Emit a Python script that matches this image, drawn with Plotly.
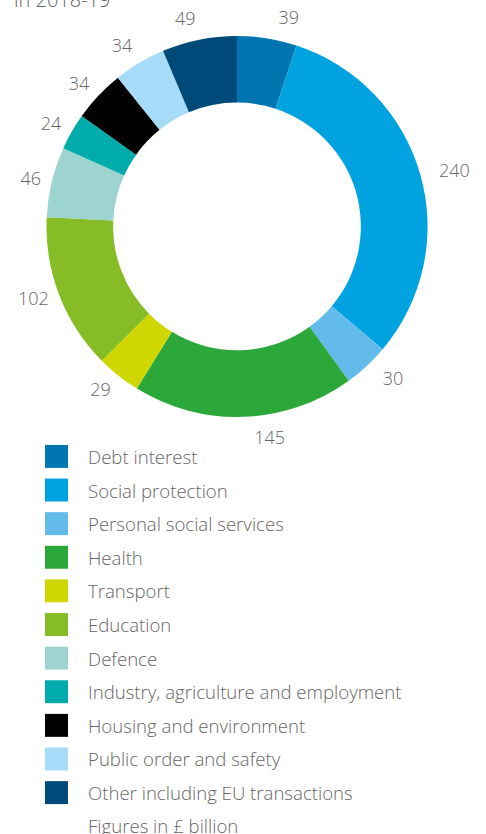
import plotly.graph_objects as go

categories = ["Debt interest", "Social protection", "Personal social services", "Health",
              "Transport", "Education", "Defence", "Industry, agriculture and employment",
              "Housing and environment", "Public order and safety", "Other including EU transactions"]
values = [39, 240, 30, 145, 29, 102, 46, 24, 34, 34, 49]
colors = ["#0075B0", "#00A3E0", "#62BBEA", "#2CA83B", "#D0D600", "#86BC25",
          "#9DD4CF", "#00ABAB", "#000000", "#A6DCF8", "#004A7A"]

W, H = 486, 834
FONT = "Open Sans"
GREY = "#666666"
CX, CY, R = 237, 225, 191     # donut centre / radius in px
RL = 200                      # radius used to place outside value labels


def dom(r, cx=CX, cy=CY):
    return dict(x=[(cx - r) / W, (cx + r) / W], y=[1 - (cy + r) / H, 1 - (cy - r) / H])


fig = go.Figure()
# visible donut
fig.add_trace(go.Pie(
    labels=categories, values=values, sort=False, direction="clockwise", rotation=0,
    hole=0.65, marker=dict(colors=colors, line=dict(width=0)),
    textinfo="none", showlegend=False, hoverinfo="label+value", domain=dom(R),
))
# transparent ring carrying the value labels slightly further out
fig.add_trace(go.Pie(
    labels=categories, values=values, sort=False, direction="clockwise", rotation=0,
    hole=0.95, marker=dict(colors=["rgba(0,0,0,0)"] * len(values), line=dict(width=0)),
    textinfo="value", textposition="outside",
    textfont=dict(family=FONT, size=18, color=GREY, weight=300),
    showlegend=False, hoverinfo="skip", domain=dom(RL, cx=CX + 4, cy=CY - 1),
))

shapes, annotations = [], []
y0, step = 455.5, 33.7
for i, (cat, col) in enumerate(zip(categories, colors)):
    yc = y0 + i * step
    shapes.append(dict(type="rect", xref="paper", yref="paper",
                       x0=45 / W, x1=68 / W, y0=1 - (yc + 11.5) / H, y1=1 - (yc - 11.5) / H,
                       fillcolor=col, line=dict(width=0)))
    annotations.append(dict(text=cat, xref="paper", yref="paper", x=86 / W, y=1 - yc / H,
                            xanchor="left", yanchor="middle", showarrow=False,
                            font=dict(family=FONT, size=18.6, color=GREY, weight=300)))

annotations.append(dict(text="Figures in £ billion", xref="paper", yref="paper",
                        x=86 / W, y=1 - 825 / H, xanchor="left", yanchor="middle",
                        showarrow=False, font=dict(family=FONT, size=18.6, color=GREY, weight=300)))
annotations.append(dict(text="in 2018-19", xref="paper", yref="paper",
                        x=12 / W, y=1 + 3 / H, xanchor="left", yanchor="middle",
                        showarrow=False, font=dict(family=FONT, size=20, color=GREY, weight=300)))

fig.update_layout(width=W, height=H, margin=dict(l=0, r=0, t=0, b=0),
                  paper_bgcolor="white", plot_bgcolor="white",
                  shapes=shapes, annotations=annotations)
fig.write_html("out.html", config={"displayModeBar": False},
               post_script="document.body.style.margin='0';document.body.style.overflow='hidden';")
